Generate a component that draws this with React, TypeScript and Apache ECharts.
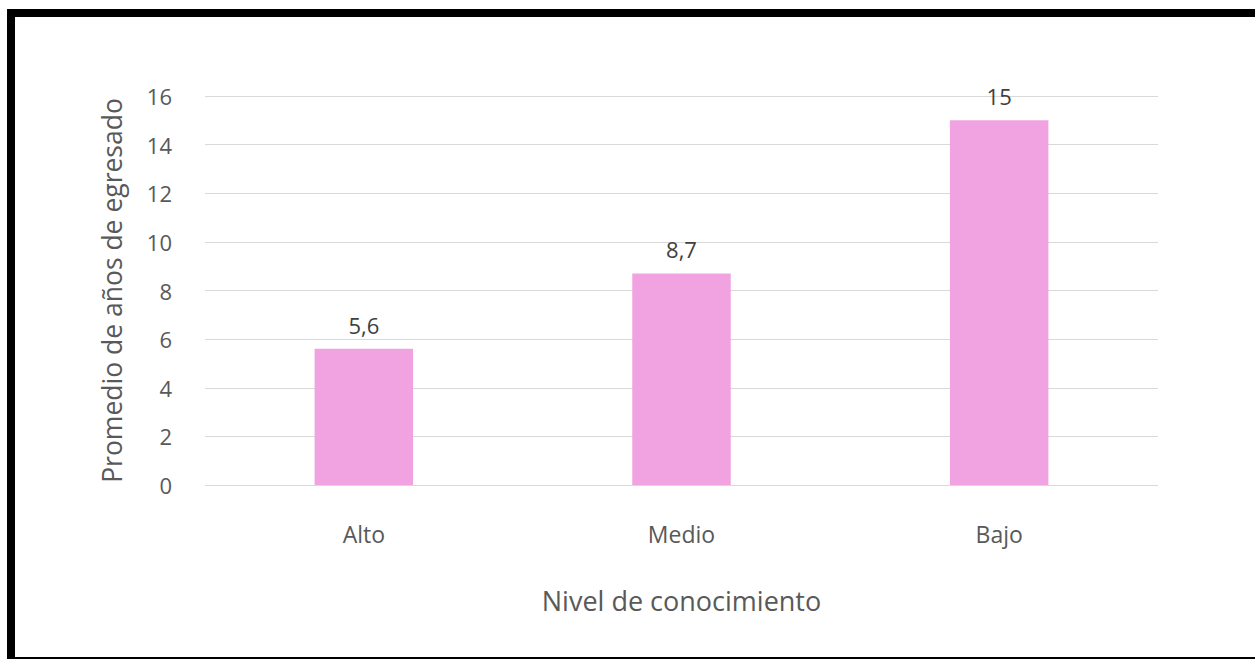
import React, { useEffect, useRef } from "react";
import * as echarts from "echarts";

const categories = ["Alto", "Medio", "Bajo"];
const values = [5.6, 8.7, 15];
const valueLabels = ["5,6", "8,7", "15"];
const yTicks = [0, 2, 4, 6, 8, 10, 12, 14, 16];

const FONT = "'Open Sans', 'DejaVu Sans', sans-serif";
const TXT = "#595959";

export default function App() {
  const ref = useRef<HTMLDivElement>(null);
  useEffect(() => {
    if (!ref.current) return;
    const chart = echarts.init(ref.current, undefined, { renderer: "svg" });
    chart.setOption({
      animation: false,
      backgroundColor: "#ffffff",
      textStyle: { fontFamily: FONT },
      graphic: [
        { type: "rect", shape: { x: 7, y: 9, width: 1248, height: 8 }, style: { fill: "#000" } },
        { type: "rect", shape: { x: 7, y: 9, width: 8, height: 650 }, style: { fill: "#000" } },
        { type: "rect", shape: { x: 7, y: 657, width: 1248, height: 2 }, style: { fill: "#000" } },
      ],
      grid: { left: 205, right: 97, top: 96, bottom: 174, containLabel: false },
      xAxis: {
        type: "category",
        data: categories,
        axisLine: { show: false },
        axisTick: { show: false },
        axisLabel: { color: TXT, fontSize: 23, margin: 37, fontFamily: FONT },
        name: "Nivel de conocimiento",
        nameLocation: "middle",
        nameGap: 102,
        nameTextStyle: { color: TXT, fontSize: 27, fontFamily: FONT },
      },
      yAxis: {
        type: "value",
        min: yTicks[0],
        max: yTicks[yTicks.length - 1],
        interval: 2,
        axisLine: { show: false },
        axisTick: { show: false },
        splitLine: { lineStyle: { color: "#d9d9d9", width: 1 } },
        axisLabel: { color: TXT, fontSize: 22, margin: 33, fontFamily: FONT },
        name: "Promedio de años de egresado",
        nameLocation: "middle",
        nameGap: 80,
        nameRotate: 90,
        nameTextStyle: { color: TXT, fontSize: 26.5, fontFamily: FONT },
      },
      series: [
        {
          type: "bar",
          data: values,
          barWidth: "31%",
          itemStyle: { color: "#F0A3E0" },
          label: {
            show: true,
            position: "top",
            distance: 13,
            color: "#404040",
            fontSize: 22,
            fontFamily: FONT,
            formatter: (p: any) => valueLabels[p.dataIndex],
          },
        },
      ],
    });
    return () => chart.dispose();
  }, []);
  return (
    <div
      ref={ref}
      style={{ position: "fixed", left: 0, top: 0, width: 1255, height: 659 }}
    />
  );
}
